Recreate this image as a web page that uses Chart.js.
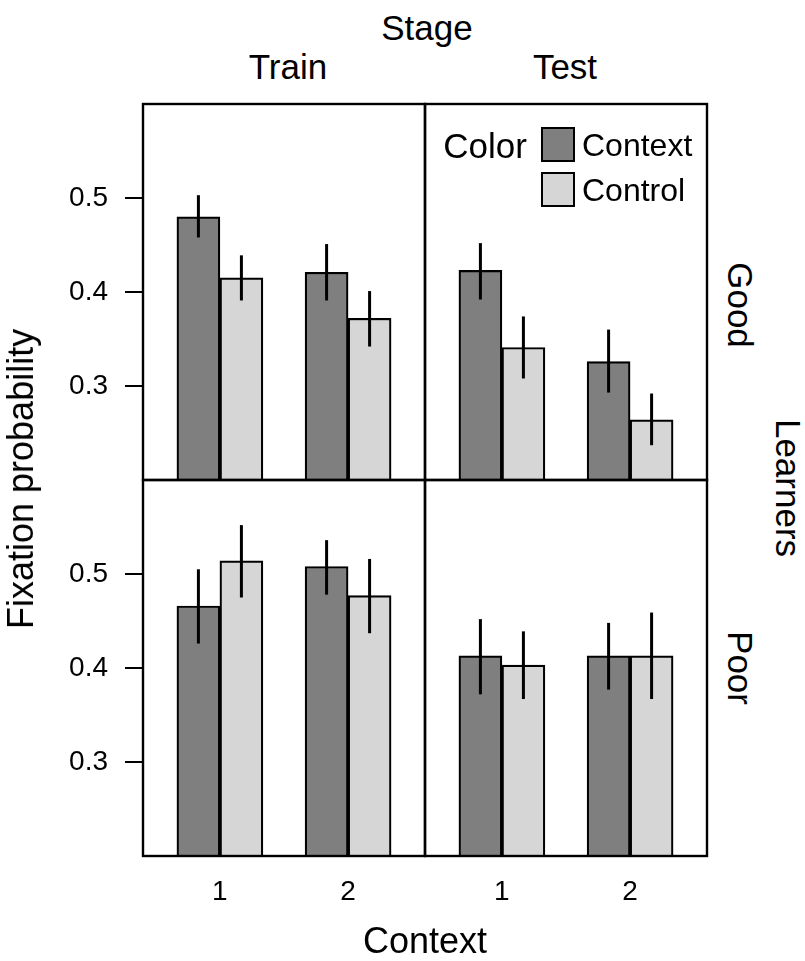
<!DOCTYPE html>
<html>
<head>
<meta charset="utf-8">
<script src="https://cdn.jsdelivr.net/npm/chart.js@4.4.1/dist/chart.umd.min.js"></script>
<style>
html,body{margin:0;padding:0;background:#fff;}
body{width:805px;height:961px;position:relative;overflow:hidden;font-family:"Liberation Sans",Arial,Helvetica,sans-serif;color:#000;}
canvas{position:absolute;}
.t{position:absolute;line-height:1;white-space:nowrap;transform:translate(-50%,-50%);}
.sq{position:absolute;width:30px;height:31px;border:2px solid #000;}
</style>
</head>
<body>
<script>
// ---------------- data ----------------
const stages = ['Train', 'Test'];
const learners = ['Good', 'Poor'];
const contexts = [1, 2];
const colorLevels = ['Context', 'Control'];
const yTicks = [0.3, 0.4, 0.5];

// means: [context 1, context 2]
const trainGoodContext = [0.480, 0.421];
const trainGoodControl = [0.415, 0.372];
const testGoodContext  = [0.423, 0.326];
const testGoodControl  = [0.341, 0.264];
const trainPoorContext = [0.466, 0.508];
const trainPoorControl = [0.514, 0.477];
const testPoorContext  = [0.413, 0.413];
const testPoorControl  = [0.403, 0.413];

// error bar limits [low, high] per context
const trainGoodContextErr = [[0.458, 0.503], [0.391, 0.451]];
const trainGoodControlErr = [[0.391, 0.439], [0.342, 0.401]];
const testGoodContextErr  = [[0.392, 0.452], [0.293, 0.360]];
const testGoodControlErr  = [[0.308, 0.374], [0.237, 0.292]];
const trainPoorContextErr = [[0.426, 0.505], [0.478, 0.536]];
const trainPoorControlErr = [[0.475, 0.552], [0.437, 0.516]];
const testPoorContextErr  = [[0.372, 0.452], [0.377, 0.448]];
const testPoorControlErr  = [[0.367, 0.439], [0.367, 0.459]];

const panelData = {
  'Train|Good': [[trainGoodContext, trainGoodContextErr], [trainGoodControl, trainGoodControlErr]],
  'Test|Good':  [[testGoodContext,  testGoodContextErr],  [testGoodControl,  testGoodControlErr]],
  'Train|Poor': [[trainPoorContext, trainPoorContextErr], [trainPoorControl, trainPoorControlErr]],
  'Test|Poor':  [[testPoorContext,  testPoorContextErr],  [testPoorControl,  testPoorControlErr]]
};

// ---------------- layout / style ----------------
const FILL = ['#7f7f7f', '#d6d6d6'];
const PX = [143, 425];   // panel left edges
const PY = [104, 480];   // panel top edges
const PW = 282, PH = 376;
const W = 805, H = 961;

Chart.defaults.font.family = '"Liberation Sans", Arial, Helvetica, sans-serif';
Chart.defaults.color = '#000';

const frameAndErrors = {
  id: 'frameAndErrors',
  afterDatasetsDraw(chart) {
    const ctx = chart.ctx, ys = chart.scales.y;
    ctx.save();
    ctx.strokeStyle = '#000';
    ctx.lineWidth = 3;
    ctx.lineCap = 'butt';
    chart.data.datasets.forEach((ds, i) => {
      const meta = chart.getDatasetMeta(i);
      meta.data.forEach((el, j) => {
        const [lo, hi] = ds.err[j];
        ctx.beginPath();
        ctx.moveTo(el.x, ys.getPixelForValue(lo));
        ctx.lineTo(el.x, ys.getPixelForValue(hi));
        ctx.stroke();
      });
    });
    ctx.restore();
  },
  afterDraw(chart) {
    const a = chart.chartArea, ctx = chart.ctx;
    ctx.save();
    ctx.strokeStyle = '#000';
    ctx.lineWidth = 2.4;
    ctx.strokeRect(a.left, a.top, a.right - a.left, a.bottom - a.top);
    ctx.restore();
  }
};

function noPad(s) {
  s.paddingTop = 0; s.paddingBottom = 0; s.paddingLeft = 0; s.paddingRight = 0;
}

function makePanel(c, r) {
  const stage = stages[c], learner = learners[r];
  const series = panelData[stage + '|' + learner];
  const showY = c === 0, showX = r === 1;
  const left = showY ? 0 : PX[c] - 4;
  const top = PY[r] - 4;
  const width = showY ? PX[0] + PW + 4 : PW + 8;
  const height = showX ? H - top : PH + 8;
  const cv = document.createElement('canvas');
  cv.width = width; cv.height = height;
  cv.style.left = left + 'px'; cv.style.top = top + 'px';
  cv.style.width = width + 'px'; cv.style.height = height + 'px';
  document.body.appendChild(cv);

  new Chart(cv, {
    type: 'bar',
    data: {
      datasets: series.map((s, i) => ({
        label: colorLevels[i],
        data: contexts.map((x, j) => ({ x: x, y: s[0][j] })),
        err: s[1],
        backgroundColor: FILL[i],
        borderColor: '#000',
        borderWidth: 2.2,
        borderSkipped: false,
        barThickness: 43
      }))
    },
    options: {
      responsive: false,
      maintainAspectRatio: false,
      animation: false,
      devicePixelRatio: 1,
      layout: { padding: { left: showY ? 0 : 4, right: 4, top: 4, bottom: showX ? 0 : 4 } },
      plugins: { legend: { display: false }, tooltip: { enabled: false } },
      scales: {
        x: {
          type: 'linear',
          min: 0.4, max: 2.6,
          offset: false,
          display: showX,
          grid: { display: false, offset: false, drawTicks: false },
          border: { display: false },
          afterBuildTicks: (s) => { s.ticks = contexts.map(v => ({ value: v })); },
          afterFit: (s) => { noPad(s); if (showX) s.height = H - (PY[1] + PH); },
          ticks: { font: { size: 28 }, padding: 19, color: '#000', callback: (v) => String(v) }
        },
        y: {
          type: 'linear',
          min: 0.2, max: 0.6,
          beginAtZero: false,
          display: showY,
          border: { display: false },
          grid: { drawOnChartArea: false, drawTicks: true, tickLength: 18, color: '#000', lineWidth: 2 },
          afterBuildTicks: (s) => { s.ticks = yTicks.map(v => ({ value: v })); },
          afterFit: (s) => { noPad(s); if (showY) s.width = PX[0]; },
          ticks: { font: { size: 28 }, padding: 17, color: '#000', callback: (v) => v.toFixed(1) }
        }
      }
    },
    plugins: [frameAndErrors]
  });
}

for (let r = 0; r < 2; r++) for (let c = 0; c < 2; c++) makePanel(c, r);

// ---------------- text ----------------
function addText(txt, x, y, size, rot) {
  const d = document.createElement('div');
  d.className = 't';
  d.textContent = txt;
  d.style.left = x + 'px';
  d.style.top = y + 'px';
  d.style.fontSize = size + 'px';
  if (rot) d.style.transform = 'translate(-50%,-50%) rotate(' + rot + 'deg)';
  document.body.appendChild(d);
  return d;
}
addText('Stage', 427, 27, 35);
addText(stages[0], 288, 66, 35);
addText(stages[1], 565, 66, 35);
addText(learners[0], 740, 305, 35, 90);
addText(learners[1], 740, 668, 35, 90);
addText('Learners', 788, 488, 35, 90);
addText('Fixation probability', 21, 479, 36, -90);
addText('Context', 425, 941, 36);

// legend
addText('Color', 485, 145, 35);
colorLevels.forEach((lab, i) => {
  const sq = document.createElement('div');
  sq.className = 'sq';
  sq.style.left = '541px';
  sq.style.top = (127 + i * 45) + 'px';
  sq.style.background = FILL[i];
  document.body.appendChild(sq);
  const d = addText(lab, 582, 145 + i * 45, 32);
  d.style.transform = 'translate(0,-50%)';
});
</script>
</body>
</html>
